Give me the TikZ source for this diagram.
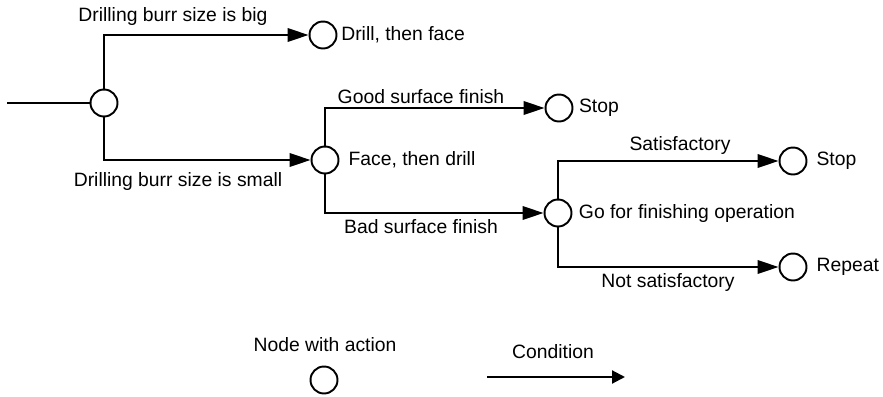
\documentclass[tikz,border=0pt]{standalone}
\usepackage{fontspec}
\setmainfont{Liberation Sans}
\usetikzlibrary{arrows.meta,positioning}

\tikzset{
    act/.style={draw, circle, line width=1.1pt, minimum size=0.54cm, inner sep=0pt},
    cond/.style={line width=1.2pt, -{Triangle[length=0.42cm,width=0.27cm]}},
    txt/.style={inner sep=0pt, font=\fontsize{11}{13}\selectfont},
}

\begin{document}
\begin{tikzpicture}[x=0.02cm, y=-0.02cm]
    \useasboundingbox (0,0) rectangle (883,396);

    % Action nodes
    \node[act] (root) at (104,103) {};
    \node[act] (drill) at (323,35) {};
    \node[act] (face) at (325,160) {};
    \node[act] (stopA) at (559,108) {};
    \node[act] (finish) at (558,213) {};
    \node[act] (stopB) at (793,161) {};
    \node[act] (again) at (793,267) {};
    \coordinate (in) at (7,103);

    % Actions
    \node[txt, right=2pt of drill] (drilltxt) {Drill, then face};
    \node[txt, right=5pt of face] (facetxt) {Face, then drill};
    \node[txt, right=3pt of stopA] (stopAtxt) {Stop};
    \node[txt, right=3.5pt of finish] (finishtxt) {Go for finishing operation};
    \node[txt, right=5pt of stopB] (stopBtxt) {Stop};
    \node[txt, right=5pt of again] (againtxt) {Repeat};

    % Conditions
    \draw[line width=1.2pt] (in) -- (root);
    \draw[cond] (root.north) |- (drill);
    \draw[cond] (root.south) |- (face);
    \draw[cond] (face.north) |- (stopA);
    \draw[cond] (face.south) |- (finish);
    \draw[cond] (finish.north) |- (stopB);
    \draw[cond] (finish.south) |- (again);

    \node[txt] (big) at (173,17) {Drilling burr size is big};
    \node[txt] (small) at (178,182) {Drilling burr size is small};
    \node[txt] (good) at (421,97) {Good surface finish};
    \node[txt] (bad) at (421,227) {Bad surface finish};
    \node[txt] (sat) at (680,145) {Satisfactory};
    \node[txt] (notsat) at (668,282) {Not satisfactory};

    % Legend
    \node[txt] (lgnode) at (325,345) {Node with action};
    \node[act] (lgcircle) at (324,380) {};
    \node[txt] (lgcond) at (553,352) {Condition};
    \coordinate (lgA) at (487,377);
    \coordinate (lgB) at (625,377);
    \draw[line width=1.2pt, -{Triangle[length=0.26cm,width=0.26cm]}] (lgA) -- (lgB);
\end{tikzpicture}
\end{document}
